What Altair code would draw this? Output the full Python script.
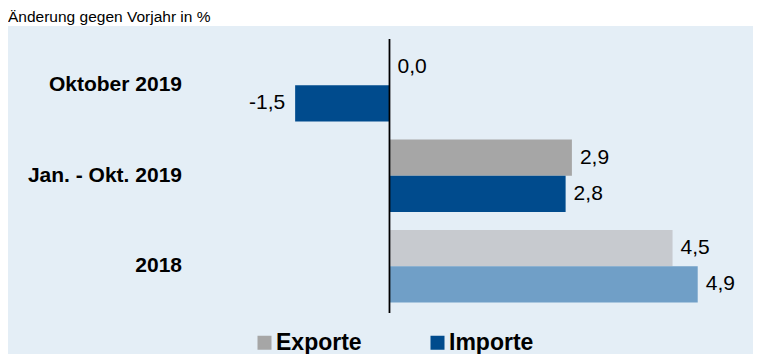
import altair as alt
import pandas as pd

title_text = "Änderung gegen Vorjahr in %"
categories = ["Oktober 2019", "Jan. - Okt. 2019", "2018"]
series = ["Exporte", "Importe"]
exporte = [0.0, 2.9, 4.5]
importe = [-1.5, 2.8, 4.9]

rows = []
for c, e, i in zip(categories, exporte, importe):
    rows.append({"category": c, "series": "Exporte", "value": e})
    rows.append({"category": c, "series": "Importe", "value": i})
df = pd.DataFrame(rows)
df["label"] = df["value"].map(lambda v: f"{v:.1f}".replace(".", ","))
df["key"] = [s + (" 2018" if c == "2018" else "") for c, s in zip(df["category"], df["series"])]

cat_df = pd.DataFrame({"category": categories})
title_df = pd.DataFrame({"t": [title_text]})

FONT = "Liberation Sans"
key_domain = ["Exporte", "Importe", "Exporte 2018", "Importe 2018"]
key_colors = ["#a6a6a6", "#004b8d", "#c7cacf", "#709fc7"]

xscale = alt.Scale(domain=[-6.065, 5.779], nice=False, zero=False)
yscale = alt.Scale(paddingInner=0.199, paddingOuter=0.4116, align=0.3087, round=False)

BAR_H = 36.2
HALF = BAR_H / 2

Y = alt.Y("category:N", sort=categories, scale=yscale, axis=None)
X = alt.X("value:Q", scale=xscale, axis=None)
COLOR = alt.Color("key:N", scale=alt.Scale(domain=key_domain, range=key_colors), legend=None)

layers = []
for s, off in zip(series, [-HALF, HALF]):
    sub = alt.Chart(df).transform_filter(alt.datum.series == s)
    layers.append(
        sub.mark_bar(height=BAR_H, yOffset=off).encode(y=Y, x=X, x2=alt.datum(0), color=COLOR)
    )
    layers.append(
        sub.transform_filter(alt.datum.value >= 0).mark_text(
            align="left", baseline="middle", dx=8, yOffset=off, fontSize=21, font=FONT, color="black"
        ).encode(y=Y, x=X, text="label:N")
    )
    layers.append(
        sub.transform_filter(alt.datum.value < 0).mark_text(
            align="right", baseline="middle", dx=-10, yOffset=off, fontSize=21, font=FONT, color="black"
        ).encode(y=Y, x=X, text="label:N")
    )

# legend-only layer (zero-width bars)
legend_layer = alt.Chart(df).transform_filter(alt.datum.category != "2018").mark_bar(height=1).encode(
    y=Y,
    x=alt.datum(0, scale=xscale),
    x2=alt.datum(0),
    fill=alt.Fill(
        "series:N",
        sort=series,
        scale=alt.Scale(domain=series, range=key_colors[:2]),
        legend=alt.Legend(
            title=None,
            orient="none",
            legendX=245,
            legendY=305,
            direction="horizontal",
            symbolType="square",
            symbolSize=196,
            symbolStrokeWidth=0,
            labelFontSize=23,
            labelFontWeight="bold",
            labelFont=FONT,
            labelColor="black",
            labelOffset=0,
            columnPadding=64,
            padding=0,
        ),
    ),
)

cat_labels = alt.Chart(cat_df).mark_text(
    align="right", baseline="middle", fontSize=21, fontWeight="bold", font=FONT, color="black"
).encode(y=Y, x=alt.value(174), text="category:N")

zero_rule = alt.Chart(cat_df).mark_rule(color="black", strokeWidth=1.3).encode(
    x=alt.datum(0, scale=xscale),
    y=alt.value(13),
    y2=alt.value(287),
)

title = alt.Chart(title_df).mark_text(
    align="left", baseline="alphabetic", fontSize=15.5, font=FONT, color="black"
).encode(x=alt.value(0), y=alt.value(-4), text="t:N")

chart = alt.layer(
    *layers, legend_layer, zero_rule, cat_labels, title
).properties(
    width=745,
    height=328,
    padding={"left": 0, "top": 18, "right": 0, "bottom": 0},
    autosize=alt.AutoSizeParams(type="none"),
).configure(font=FONT).configure_view(fill="#e4eef6", stroke=None)

chart.save("out.html", embed_options={"renderer": "svg", "actions": False})
